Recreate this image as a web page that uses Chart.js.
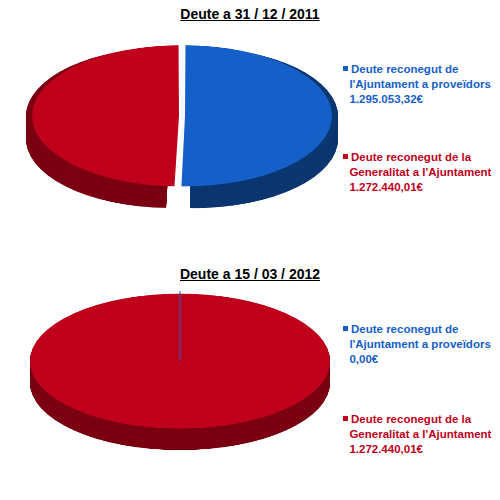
<!DOCTYPE html>
<html><head><meta charset="utf-8">
<script src="https://cdn.jsdelivr.net/npm/chart.js@4"></script>
<style>
body{margin:0;width:500px;height:500px;background:#fff;font-family:"Liberation Sans",Arial,sans-serif;position:relative;overflow:hidden}
.title{position:absolute;left:0;width:500px;text-align:center;font-weight:bold;font-size:14px;text-decoration:underline;color:#000}
canvas{position:absolute;transform-origin:0 0;transform:scaleY(0.45)}
.leg{position:absolute;left:343px;font-size:11.5px;font-weight:bold;line-height:15px}
.leg span{display:inline-block;width:5px;height:5px;margin-right:3px;vertical-align:2px}
</style></head><body>
<div class="title" style="top:6px">Deute a 31 / 12 / 2011</div>
<canvas id="c1" width="320" height="360" style="left:22px;top:40px;transform:scaleY(0.48)"></canvas>
<div class="leg" style="top:62px;color:#1560C8"><span style="background:#1560C8"></span>Deute reconegut de<br>&nbsp;&nbsp;l'Ajuntament a proveïdors<br>&nbsp;&nbsp;1.295.053,32€</div>
<div class="leg" style="top:150px;color:#C0001A"><span style="background:#C0001A"></span>Deute reconegut de la<br>&nbsp;&nbsp;Generalitat a l'Ajuntament<br>&nbsp;&nbsp;1.272.440,01€</div>
<div class="title" style="top:266px">Deute a 15 / 03 / 2012</div>
<canvas id="c2" width="320" height="360" style="left:20px;top:290px"></canvas>
<div class="leg" style="top:322px;color:#1560C8"><span style="background:#1560C8"></span>Deute reconegut de<br>&nbsp;&nbsp;l'Ajuntament a proveïdors<br>&nbsp;&nbsp;0,00€</div>
<div class="leg" style="top:412px;color:#C0001A"><span style="background:#C0001A"></span>Deute reconegut de la<br>&nbsp;&nbsp;Generalitat a l'Ajuntament<br>&nbsp;&nbsp;1.272.440,01€</div>
<script>
const labels = ["Deute reconegut de l'Ajuntament a proveïdors", "Deute reconegut de la Generalitat a l'Ajuntament"];
const values2011 = [1295053.32, 1272440.01];
const values2012 = [0, 1272440.01];
const topColors = ['#1560C8', '#C0001A'];
const sideColors = ['#0b3670', '#7a0012'];

const depthPlugin = {
  id: 'depth',
  beforeDatasetsDraw(chart, args, opts) {
    const ctx = chart.ctx;
    chart.getDatasetMeta(0).data.forEach((arc, i) => {
      if (arc.endAngle - arc.startAngle <= 0) return;
      const a0 = arc.startAngle, a1 = arc.endAngle;
      const mid = (a0 + a1) / 2, off = arc.options.offset || 0;
      const cx = arc.x + Math.cos(mid) * off, cy = arc.y + Math.sin(mid) * off;
      ctx.save();
      ctx.fillStyle = sideColors[i];
      for (let d = opts.depth; d > 0; d--) {
        ctx.beginPath();
        ctx.moveTo(cx, cy + d);
        ctx.arc(cx, cy + d, arc.outerRadius, a0, a1);
        ctx.closePath();
        ctx.fill();
      }
      ctx.restore();
    });
  },
  afterDatasetsDraw(chart, args, opts) {
    // thin mark for the zero-value slice at the top of the pie
    if (!opts.zeroMark) return;
    const arc = chart.getDatasetMeta(0).data[0];
    const ctx = chart.ctx;
    ctx.save();
    ctx.strokeStyle = topColors[0];
    ctx.lineWidth = 1;
    ctx.beginPath();
    ctx.moveTo(arc.x, arc.y);
    ctx.lineTo(arc.x, arc.y - arc.outerRadius - 6);
    ctx.stroke();
    ctx.restore();
  }
};

function makePie(id, values, offset, zeroMark) {
  new Chart(document.getElementById(id), {
    type: 'pie',
    data: { labels, datasets: [{ data: values, backgroundColor: topColors, borderWidth: 0, offset }] },
    options: {
      responsive: false, animation: false,
      layout: { padding: { top: 8, bottom: 52, left: 4, right: 4 } },
      plugins: { legend: { display: false }, tooltip: { enabled: false }, depth: { depth: 48, zeroMark } }
    },
    plugins: [depthPlugin]
  });
}
makePie('c1', values2011, 12, false);
makePie('c2', values2012, 0, true);
</script>
</body></html>
